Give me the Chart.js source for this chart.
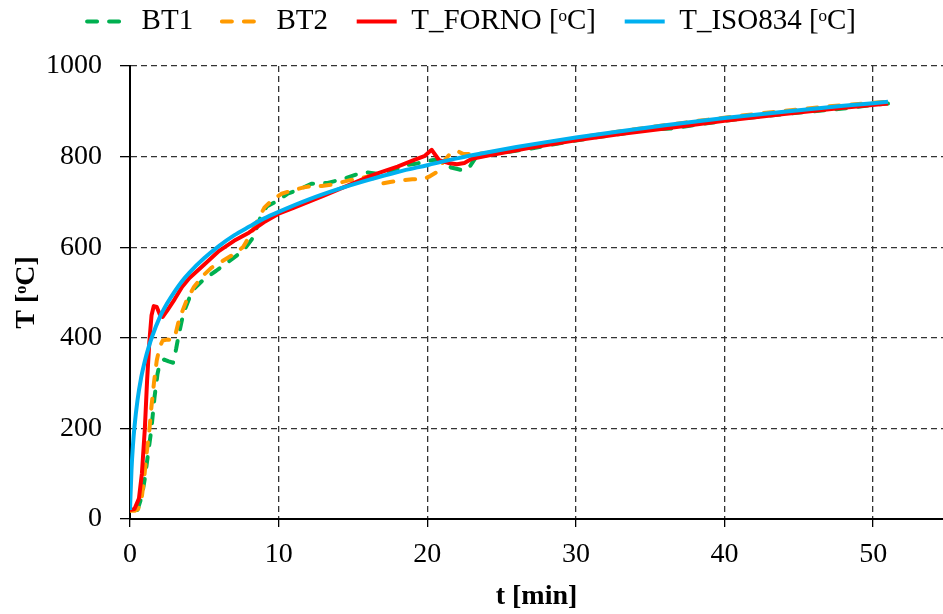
<!DOCTYPE html>
<html>
<head>
<meta charset="utf-8">
<script src="https://cdn.jsdelivr.net/npm/chart.js@4.4.1/dist/chart.umd.min.js"></script>
<style>
  html, body { margin: 0; padding: 0; background: #fff; }
  #wrap { width: 943px; height: 614px; position: relative; }
</style>
</head>
<body>
<div id="wrap"><canvas id="fireChart"></canvas></div>
<script>
// furnace test: thermocouple readings vs ISO 834 standard curve
const bt1Time = [0.5, 0.8, 1.0, 1.2, 1.43, 1.65, 1.85, 2.0, 2.3, 2.6, 2.9, 3.1, 3.3, 3.6, 4.2, 5, 5.8, 6.5, 7.2, 7.8, 8.3, 8.8, 9.2, 9.8, 10.6, 11.4, 12.2, 13.3, 14.4, 15.2, 16, 16.6, 17.1, 17.8, 18.4, 19.2, 20, 20.5, 21, 21.6, 22.1, 22.5, 22.9, 23.3, 24, 25, 27, 29, 31, 33, 35, 36.4, 38, 40, 42, 44, 46, 48, 50, 51];
const bt1Temp = [20, 50, 90, 140, 196, 269, 320, 343, 352, 348, 345, 375, 410, 455, 505, 530, 548, 565, 582, 600, 622, 668, 690, 700, 718, 728, 740, 742, 751, 760, 765, 762, 758, 770, 780, 784, 790, 793, 788, 776, 772, 769, 780, 800, 803, 808, 818, 830, 841, 850, 860, 862, 870, 879, 887, 894, 900, 906, 914, 917];

const bt2Time = [0, 0.3, 0.55, 0.8, 0.96, 1.1, 1.3, 1.45, 1.63, 1.8, 2.0, 2.2, 2.5, 2.8, 3.0, 3.3, 3.8, 4.3, 4.9, 5.5, 6.25, 7.0, 7.6, 8.15, 8.6, 9.05, 9.6, 10.2, 11, 11.7, 12.3, 12.9, 13.5, 14.2, 14.8, 15.4, 16, 16.5, 16.9, 17.5, 18.2, 19, 19.8, 20.2, 20.6, 21, 21.5, 22, 22.4, 23.2, 24, 25, 27, 29, 31, 33, 35, 38, 41, 44, 47, 49, 51.3];
const bt2Temp = [18, 18, 22, 50, 92, 140, 196, 250, 306, 350, 380, 394, 396, 395, 400, 440, 482, 512, 537, 555, 570, 585, 600, 630, 660, 688, 705, 718, 726, 732, 736, 735, 738, 743, 748, 752, 756, 751, 740, 744, 747, 750, 751, 757, 765, 785, 805, 813, 806, 806, 808, 813, 823, 834, 846, 856, 865, 878, 890, 901, 911, 916, 922];

const fornoTime = [0, 0.3, 0.6, 0.8, 1.0, 1.15, 1.3, 1.45, 1.6, 1.8, 2.0, 2.2, 2.5, 3, 3.5, 4, 5, 6, 7, 8, 9, 10, 11, 12, 13, 14, 15, 16, 17, 18, 19, 19.8, 20.3, 20.8, 21.4, 22.0, 22.5, 23, 24, 25, 27, 30, 33, 36, 40, 44, 48, 51];
const fornoTemp = [20, 22, 45, 100, 200, 306, 390, 450, 470, 468, 452, 446, 460, 485, 512, 532, 562, 592, 614, 632, 655, 674, 687, 700, 713, 727, 741, 755, 767, 778, 791, 801, 815, 792, 786, 783, 786, 795, 802, 808, 820, 836, 850, 862, 879, 894, 908, 917];

const isoTime = [0, 0.1, 0.2, 0.3, 0.5, 0.75, 1, 1.25, 1.5, 2, 2.5, 3, 3.5, 4, 5, 6, 7, 8, 9, 10, 12, 14, 16, 18, 20, 22, 24, 26, 28, 30, 33, 36, 40, 44, 48, 51];
const isoTemp = [20, 108, 163, 203, 261, 312, 349, 379, 404, 445, 476, 502, 525, 544, 576, 603, 626, 645, 663, 678, 705, 728, 748, 766, 781, 796, 809, 821, 832, 842, 856, 869, 885, 899, 912, 921];

const xTicks = [0, 10, 20, 30, 40, 50];
const yTicks = [0, 200, 400, 600, 800, 1000];

const serif = "'Liberation Serif', 'Times New Roman', serif";

function points(ts, vs) {
  return ts.map((t, i) => ({ x: t, y: vs[i] }));
}

const ctx = document.getElementById("fireChart").getContext("2d");
new Chart(ctx, {
  type: "line",
  data: {
    datasets: [
      { label: "BT1", data: points(bt1Time, bt1Temp), borderColor: "#00B050", backgroundColor: "#00B050",
        borderWidth: 4, borderDash: [10, 12], borderCapStyle: "round", order: 4 },
      { label: "BT2", data: points(bt2Time, bt2Temp), borderColor: "#FF9A00", backgroundColor: "#FF9A00",
        borderWidth: 4, borderDash: [10, 12], borderCapStyle: "round", order: 3 },
      { label: "T_FORNO [ᵒC]", data: points(fornoTime, fornoTemp), borderColor: "#FF0000", backgroundColor: "#FF0000",
        borderWidth: 4, order: 2 },
      { label: "T_ISO834 [ᵒC]", data: points(isoTime, isoTemp), borderColor: "#00B0F0", backgroundColor: "#00B0F0",
        borderWidth: 4, cubicInterpolationMode: "monotone", order: 1 }
    ]
  },
  options: {
    responsive: true,
    maintainAspectRatio: false,
    animation: false,
    elements: { point: { radius: 0 }, line: { tension: 0, borderJoinStyle: "round" } },
    layout: { padding: 0 },
    plugins: {
      tooltip: { enabled: false },
      // empty title used as a spacer between legend and plot
      title: { display: true, text: "", weight: 500, padding: 0, font: { size: 20, lineHeight: 1 } },
      legend: {
        position: "top",
        labels: {
          font: { family: serif, size: 29 },
          color: "#000",
          usePointStyle: true,
          pointStyle: "line",
          pointStyleWidth: 40,
          boxHeight: 4,
          padding: 7,
          generateLabels: chart => {
            const items = Chart.defaults.plugins.legend.labels.generateLabels(chart)
              .sort((a, b) => a.datasetIndex - b.datasetIndex);
            return items.map((item, i) => {
              const ds = chart.data.datasets[item.datasetIndex];
              return {
                ...item,
                text: i < items.length - 1 ? item.text + "   " : item.text,
                lineDash: ds.borderDash || [],
                lineWidth: 4,
                lineCap: ds.borderDash ? "round" : "butt"
              };
            });
          }
        }
      }
    },
    scales: {
      x: {
        type: "linear",
        min: 0,
        max: 54.7,
        afterBuildTicks: axis => { axis.ticks = xTicks.map(v => ({ value: v })); },
        afterFit: axis => { axis.height = 95; },
        ticks: { font: { family: serif, size: 28 }, color: "#000", padding: 11, maxRotation: 0, callback: v => String(v) },
        grid: { color: "#333", lineWidth: 1.3, tickLength: 8, tickColor: "#000", tickBorderDash: [] },
        border: { display: true, color: "#000", width: 2, dash: [6, 4] },
        title: { display: true, text: "t [min]", color: "#000", font: { family: serif, size: 28, weight: "bold" }, padding: { top: 2, bottom: 0 } }
      },
      y: {
        min: 0,
        max: 1000,
        afterBuildTicks: axis => { axis.ticks = yTicks.map(v => ({ value: v })); },
        afterFit: axis => { axis.width = 130; },
        ticks: { font: { family: serif, size: 28 }, color: "#000", padding: 18, callback: v => String(v) },
        grid: { color: "#333", lineWidth: 1.3, tickLength: 10, tickColor: "#000", tickBorderDash: [] },
        border: { display: true, color: "#000", width: 2, dash: [6, 4] },
        title: { display: true, text: "T [ᵒC]", color: "#000", font: { family: serif, size: 28, weight: "bold" }, padding: { top: 10, bottom: 0 } }
      }
    }
  }
});
</script>
</body>
</html>
